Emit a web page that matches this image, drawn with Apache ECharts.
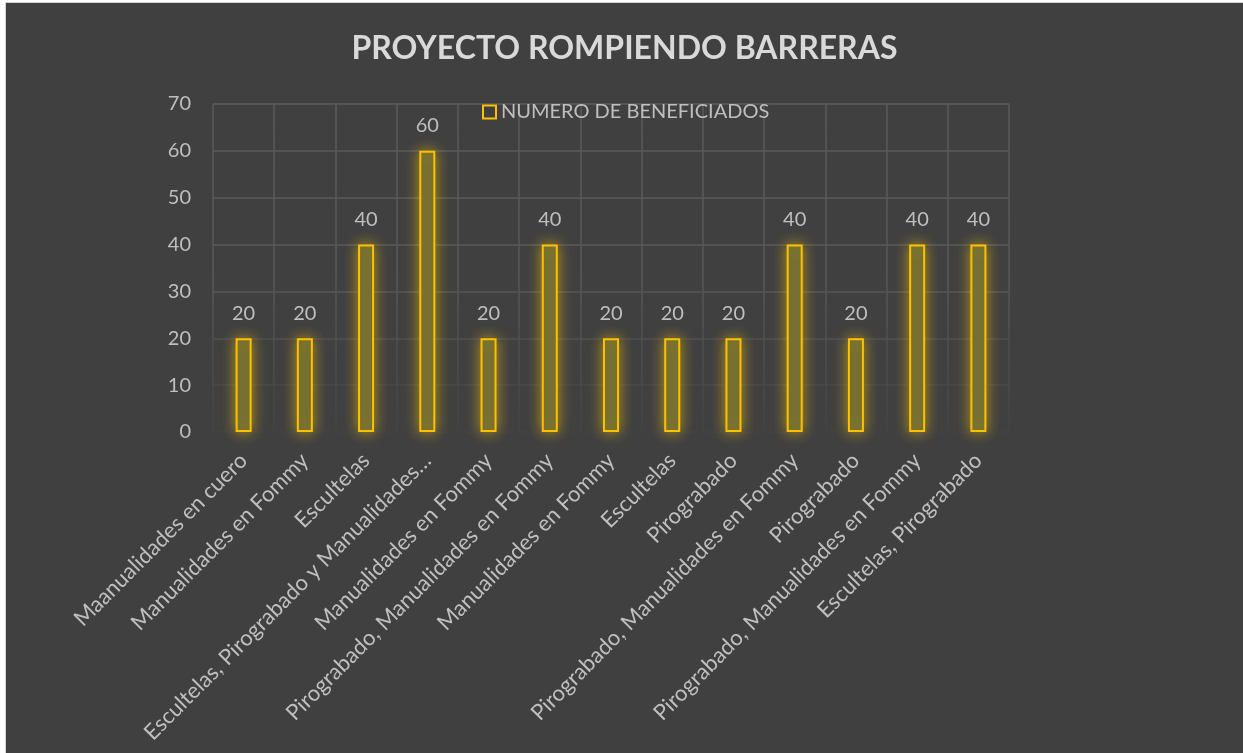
<!DOCTYPE html>
<html>
<head>
<meta charset="utf-8">
<script src="https://cdn.jsdelivr.net/npm/echarts@6/dist/echarts.min.js"></script>
<style>
  html, body { margin: 0; padding: 0; background: #ffffff; width: 1243px; height: 753px; overflow: hidden; }
  #frame { position: absolute; left: 5px; top: 2px; width: 1238px; height: 751px; background: #d4d4d4; }
  #chart { position: absolute; left: 6px; top: 3px; width: 1237px; height: 750px; background: #404040; }
</style>
</head>
<body>
<div id="frame"></div>
<div id="chart"></div>
<script>
const titleText = 'PROYECTO ROMPIENDO BARRERAS';
const seriesName = 'NUMERO DE BENEFICIADOS';
const categories = [
  'Maanualidades en cuero',
  'Manualidades en Fommy',
  'Escultelas',
  'Escultelas, Pirograbado y Manualidades…',
  'Manualidades en Fommy',
  'Pirograbado, Manualidades en Fommy',
  'Manualidades en Fommy',
  'Escultelas',
  'Pirograbado',
  'Pirograbado, Manualidades en Fommy',
  'Pirograbado',
  'Pirograbado, Manualidades en Fommy',
  'Escultelas, Pirograbado'
];
const beneficiados = [20, 20, 40, 60, 20, 40, 20, 20, 20, 40, 20, 40, 40];
const yMin = 0, yMax = 70, yStep = 10;

const FONT = 'Lato, "Open Sans", sans-serif';
const chart = echarts.init(document.getElementById('chart'), null, { renderer: 'canvas' });

const vGrad = new echarts.graphic.LinearGradient(0, 101, 0, 429, [
  { offset: 0, color: '#5a5a5a' },
  { offset: 0.5, color: '#585858' },
  { offset: 0.85, color: '#4a4a4a' },
  { offset: 1, color: '#424242' }
], true);

chart.setOption({
  backgroundColor: '#404040',
  animation: false,
  title: {
    text: titleText,
    left: 'center',
    top: 25,
    textStyle: { color: '#d9d9d9', fontFamily: FONT, fontWeight: 'bold', fontSize: 32 }
  },
  legend: {
    data: [seriesName],
    left: 476,
    top: 99,
    padding: 0,
    itemWidth: 13,
    itemHeight: 13,
    itemGap: 6,
    icon: 'rect',
    itemStyle: { color: 'transparent', borderColor: '#FFC000', borderWidth: 2, shadowBlur: 0 },
    textStyle: { color: '#bfbfbf', fontFamily: FONT, fontSize: 20, padding: [0, 0, 0, 0] }
  },
  grid: { left: 207, right: 234, top: 101, bottom: 321, containLabel: false },
  xAxis: {
    type: 'category',
    data: categories,
    boundaryGap: true,
    axisLine: { show: false },
    axisTick: { show: false },
    splitLine: { show: true, interval: 0, lineStyle: { color: vGrad, width: 1.5 } },
    axisLabel: {
      interval: 0,
      rotate: 45,
      margin: 25,
      color: '#bfbfbf',
      fontFamily: FONT,
      fontSize: 22
    }
  },
  yAxis: {
    type: 'value',
    min: yMin,
    max: yMax,
    interval: yStep,
    axisLine: { show: false },
    axisTick: { show: false },
    splitLine: {
      show: true,
      lineStyle: {
        width: 1.5,
        color: ['#434343', '#484848', '#505050', '#575757', '#5a5a5a', '#5a5a5a', '#5a5a5a', '#5c5c5c']
      }
    },
    axisLabel: { margin: 22, color: '#bfbfbf', fontFamily: FONT, fontSize: 20 }
  },
  series: [{
    name: seriesName,
    type: 'bar',
    data: beneficiados,
    barWidth: 16,
    itemStyle: {
      color: '#6a6834',
      borderColor: '#FFC000',
      borderWidth: 2,
      shadowColor: 'rgba(255,200,0,0.6)',
      shadowBlur: 14
    },
    label: {
      show: true,
      position: 'top',
      distance: 15,
      color: '#bfbfbf',
      fontFamily: FONT,
      fontSize: 20
    }
  }]
});
</script>
</body>
</html>
